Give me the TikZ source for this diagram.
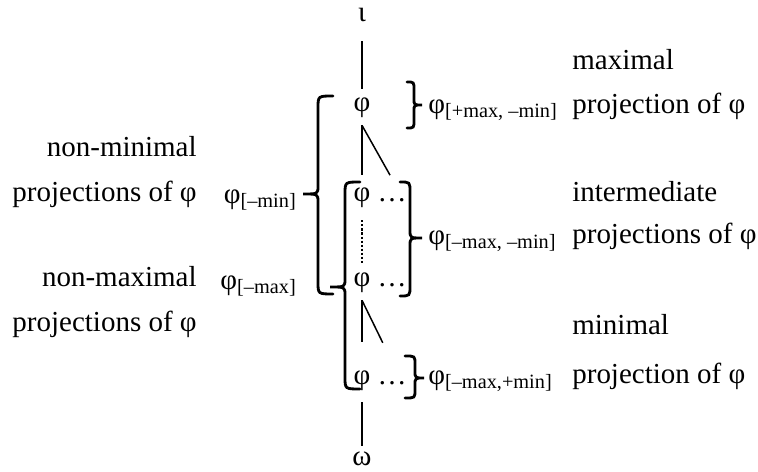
\documentclass[tikz,border=0pt]{standalone}
\usepackage{fontspec}
\setmainfont{Liberation Serif}

\begin{document}
\begin{tikzpicture}[
    x=0.02cm, y=-0.02cm,
    every node/.style={font=\fontsize{16.5}{20}\selectfont},
    tree/.style={inner sep=0pt, text height=8pt, text depth=3pt, minimum height=0.72cm},
    ends/.style={inner sep=0pt, text height=8pt, text depth=3pt},
    feat/.style={inner sep=0pt, text height=7pt, text depth=0pt},
    words/.style={inner sep=0pt, text height=7pt, text depth=0pt},
    branch/.style={line width=1.7pt},
    slant/.style={line width=0.85pt},
    bracket/.style={line width=1.6pt, line cap=round}
]
\useasboundingbox (0,0) rectangle (758,472);

% Tree
\node[ends] (iota) at (362,17) {ι};
\node[tree] (p1) at (362,107) {φ};
\node[tree] (p2) at (362,197) {φ};
\node[tree] (d2) at (392,197) {…};
\node[tree] (p3) at (362,282) {φ};
\node[tree] (d3) at (392,282) {…};
\node[tree] (p4) at (362,380) {φ};
\node[tree] (d4) at (392,380) {…};
\node[ends] (omega) at (362,461) {ω};

\draw[branch, shorten <=0.28cm] (iota) -- (p1);
\draw[branch, shorten >=0.08cm] (p1.south) -- (p2.north);
\draw[slant, shorten >=0.08cm] (p1.south) -- (d2.north);
\draw[branch, dash pattern=on 1.2pt off 1.1pt, line width=1.5pt, shorten <=0.1cm] (p2.south) -- (p3.north);
\draw[branch, shorten >=0.4cm] (p3.south) -- (p4.north);
\draw[slant, shorten >=0.42cm] (p3.south) -- (d4.north);
\draw[branch, shorten <=0.08cm, shorten >=0.1cm] (p4.south) -- (omega.north);

% Braces on the left
\draw[bracket] (333,96) .. controls (318,96) .. (318,108) -- (318,186)
    .. controls (318,194) .. (303,194) .. controls (318,194) .. (318,202)
    -- (318,282) .. controls (318,294) .. (333,294);
\draw[bracket] (360,182) .. controls (345,182) .. (345,194) -- (345,279)
    .. controls (345,287) .. (330,287) .. controls (345,287) .. (345,295)
    -- (345,377) .. controls (345,389) .. (360,389);

% Braces on the right
\draw[bracket] (407,82) .. controls (414,82) .. (414,90) -- (414,99)
    .. controls (414,105) .. (422,105) .. controls (414,105) .. (414,111)
    -- (414,120) .. controls (414,128) .. (407,128);
\draw[bracket] (400,182) .. controls (410,182) .. (410,192) -- (410,230)
    .. controls (410,238) .. (422,238) .. controls (410,238) .. (410,246)
    -- (410,286) .. controls (410,296) .. (400,296);
\draw[bracket] (405,356) .. controls (415,356) .. (415,364) -- (415,371)
    .. controls (415,378) .. (424,378) .. controls (415,378) .. (415,385)
    -- (415,390) .. controls (415,398) .. (405,398);

% Feature labels
\node[feat, anchor=east] (fmin) at (297,197) {φ\textsubscript{[–min]}};
\node[feat, anchor=east] (fmax) at (297,283) {φ\textsubscript{[–max]}};
\node[feat, anchor=west] (fmaxmin) at (428,107) {φ\textsubscript{[+max, –min]}};
\node[feat, anchor=west] (finter) at (428,238) {φ\textsubscript{[–max, –min]}};
\node[feat, anchor=west] (fminim) at (428,378) {φ\textsubscript{[–max,+min]}};

% Descriptions
\node[words, anchor=east] (nonmin) at (197,150) {non-minimal};
\node[words, anchor=east] (nonminb) at (197,195) {projections of φ};
\node[words, anchor=east] (nonmax) at (197,280) {non-maximal};
\node[words, anchor=east] (nonmaxb) at (197,325) {projections of φ};
\node[words, anchor=west] (maxi) at (572,63) {maximal};
\node[words, anchor=west] (maxib) at (572,107) {projection of φ};
\node[words, anchor=west] (inter) at (572,195) {intermediate};
\node[words, anchor=west] (interb) at (572,237) {projections of φ};
\node[words, anchor=west] (mini) at (572,328) {minimal};
\node[words, anchor=west] (minib) at (572,377) {projection of φ};

\end{tikzpicture}
\end{document}
